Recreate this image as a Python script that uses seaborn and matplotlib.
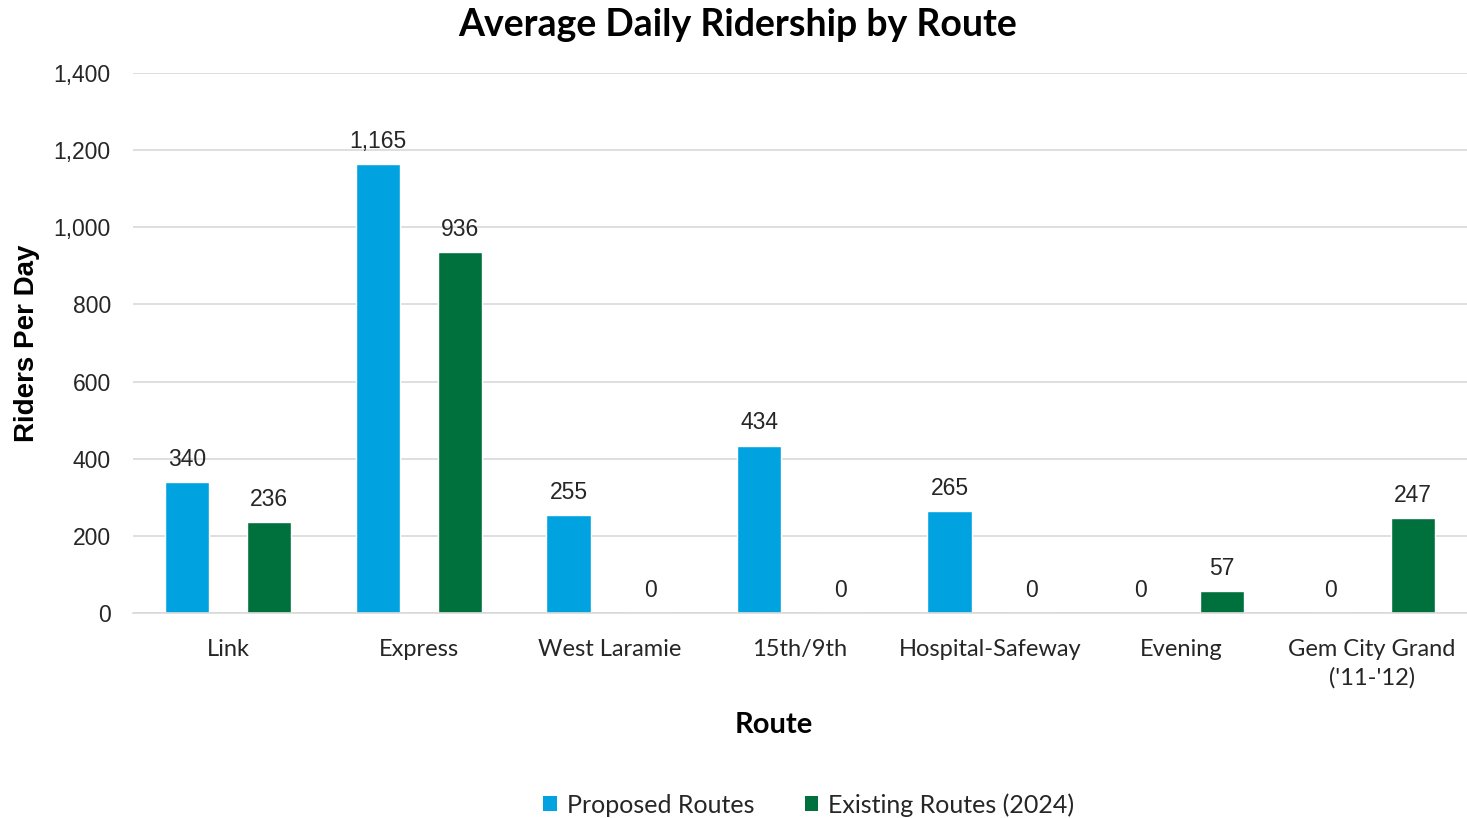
import matplotlib
matplotlib.use("Agg")
import matplotlib.pyplot as plt
from matplotlib.patches import Patch
from matplotlib.ticker import FuncFormatter
import seaborn as sns
import pandas as pd

routes = ["Link", "Express", "West Laramie", "15th/9th", "Hospital-Safeway",
          "Evening", "Gem City Grand\n('11-'12)"]
proposed = [340, 1165, 255, 434, 265, 0, 0]
existing = [236, 936, 0, 0, 0, 57, 247]
series = ["Proposed Routes", "Existing Routes (2024)"]
colors = ["#00A3E0", "#00703C"]

df = pd.DataFrame({
    "Route": routes * 2,
    "Riders": proposed + existing,
    "Series": [series[0]] * len(routes) + [series[1]] * len(routes),
})

sns.set_theme(style="white")
plt.rcParams["font.family"] = ["Lato", "DejaVu Sans"]

fig = plt.figure(figsize=(14.67, 8.18), dpi=100)
ax = fig.add_axes([133 / 1467, 1 - 613 / 818, 1334 / 1467, 540 / 818])

sns.barplot(data=df, x="Route", y="Riders", hue="Series", palette=colors,
            order=routes, hue_order=series, width=0.86, gap=0.46,
            dodge=True, errorbar=None, ax=ax, legend=False, saturation=1)

ax.set_ylim(0, 1400)
ax.set_xlim(-0.5, len(routes) - 0.5)
ax.set_yticks(range(0, 1401, 200))
ax.yaxis.set_major_formatter(FuncFormatter(lambda v, p: f"{int(v):,}"))
ax.grid(axis="y", color="#D9D9D9", linewidth=1.2)
ax.set_axisbelow(True)
for side in ["top", "right", "left"]:
    ax.spines[side].set_visible(False)
ax.spines["bottom"].set_color("#D9D9D9")
ax.spines["bottom"].set_linewidth(1.2)

ax.tick_params(axis="both", length=0)
ax.tick_params(axis="y", pad=16)
ax.tick_params(axis="x", pad=19)
for t in ax.get_yticklabels():
    t.set_fontfamily("Liberation Sans")
    t.set_fontsize(16.5)
    t.set_color("#262626")
for t in ax.get_xticklabels():
    t.set_fontsize(17)
    t.set_color("#262626")
    t.set_linespacing(1.38)

for cont in ax.containers:
    ax.bar_label(cont, labels=[f"{v:,.0f}" for v in cont.datavalues],
                 padding=8, fontsize=16.5, family="Liberation Sans",
                 color="#262626")

ax.set_xlabel("Route", fontsize=21, fontweight="bold", color="black")
ax.xaxis.set_label_coords(0.48, -0.207)
ax.xaxis.label.set_verticalalignment("center")
ax.set_ylabel("Riders Per Day", fontsize=20, fontweight="bold",
              family="Liberation Sans", color="black")
ax.yaxis.set_label_coords(-0.0795, 0.5)
ax.yaxis.label.set_verticalalignment("center")

fig.text(738 / 1467, 1 - 25 / 818, "Average Daily Ridership by Route",
         ha="center", va="center", fontsize=27, fontweight="bold",
         color="black")

handles = [Patch(facecolor=c, edgecolor="none", label=s)
           for c, s in zip(colors, series)]
fig.legend(handles=handles, loc="center", bbox_to_anchor=(809 / 1467, 1 - 805 / 818),
           ncol=2, frameon=False, fontsize=18, handlelength=0.55,
           handleheight=0.55, handletextpad=0.4, columnspacing=2.0,
           labelcolor="#262626")

fig.savefig("out.png", dpi=100)
